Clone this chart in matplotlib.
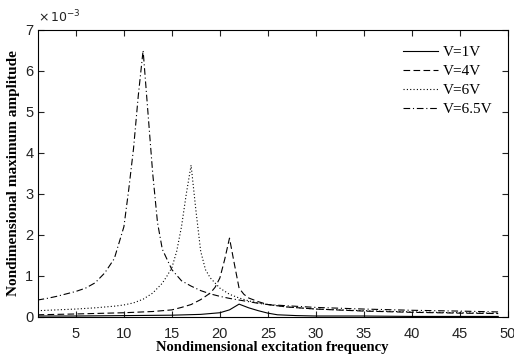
import matplotlib
matplotlib.use("Agg")
import matplotlib.pyplot as plt

# amplitudes in units of 1e-3
x_1v = [1, 5, 10, 15, 18, 20, 21, 22, 23, 24, 25, 26, 28, 30, 35, 40, 45, 49]
y_1v = [0.02, 0.02, 0.03, 0.04, 0.06, 0.10, 0.17, 0.31, 0.22, 0.15, 0.09, 0.05,
        0.03, 0.02, 0.02, 0.01, 0.01, 0.01]

x_4v = [1, 5, 10, 13, 15, 16, 17, 18, 19, 19.5, 20, 20.5, 21, 21.5, 22, 22.5,
        23, 24, 25, 27, 30, 35, 40, 45, 49]
y_4v = [0.05, 0.07, 0.10, 0.13, 0.17, 0.23, 0.30, 0.42, 0.58, 0.72, 0.95, 1.40,
        1.92, 1.30, 0.70, 0.55, 0.46, 0.37, 0.30, 0.24, 0.19, 0.14, 0.11, 0.09, 0.08]

x_6v = [1, 3, 5, 7, 9, 10, 11, 12, 13, 14, 14.5, 15, 15.5, 16, 16.5, 17, 17.5,
        18, 18.5, 19, 20, 21, 22, 23, 24, 25, 27, 30, 35, 40, 45, 49]
y_6v = [0.15, 0.17, 0.19, 0.22, 0.26, 0.29, 0.34, 0.43, 0.58, 0.82, 1.0, 1.2,
        1.6, 2.2, 3.0, 3.7, 2.6, 1.6, 1.15, 0.95, 0.70, 0.55, 0.46, 0.39, 0.34,
        0.30, 0.24, 0.19, 0.15, 0.12, 0.10, 0.09]

x_65v = [1, 2, 3, 4, 5, 6, 7, 8, 9, 10, 10.5, 11, 11.5, 12, 12.5, 13, 13.5, 14,
         15, 16, 17, 18, 19, 20, 21, 22, 23, 24, 25, 27, 30, 35, 40, 45, 49]
y_65v = [0.41, 0.45, 0.50, 0.56, 0.62, 0.70, 0.83, 1.07, 1.42, 2.2, 3.1, 4.1,
         5.4, 6.5, 5.0, 3.5, 2.3, 1.65, 1.15, 0.88, 0.75, 0.64, 0.56, 0.50, 0.45,
         0.41, 0.37, 0.33, 0.30, 0.27, 0.23, 0.19, 0.16, 0.14, 0.12]

labels = ["V=1V", "V=4V", "V=6V", "V=6.5V"]
xticks = [5, 10, 15, 20, 25, 30, 35, 40, 45, 50]
yticks = [0, 1, 2, 3, 4, 5, 6, 7]

fig = plt.figure(figsize=(5.14, 3.56), dpi=100)
ax = fig.add_axes([0.073, 0.110, 0.915, 0.806])

ax.plot(x_1v, y_1v, color="black", lw=0.8, ls="-", label=labels[0])
ax.plot(x_4v, y_4v, color="black", lw=0.8, ls=(0, (6, 3)), label=labels[1])
ax.plot(x_6v, y_6v, color="black", lw=0.8, ls=(0, (1, 2)), label=labels[2])
ax.plot(x_65v, y_65v, color="black", lw=0.8, ls=(0, (6, 2.5, 1, 2.5)), label=labels[3])

ax.set_xticks(xticks)
ax.set_yticks(yticks)
ax.set_xticklabels([str(t) for t in xticks], family="Liberation Sans")
ax.set_yticklabels([str(t) for t in yticks], family="Liberation Sans")
ax.set_xlim(1, 50)
ax.set_ylim(0, 7)
ax.tick_params(direction="in", top=True, right=True, length=4, width=0.8,
               labelsize=10.5, colors="#222222")
ax.tick_params(axis="x", pad=7)
ax.tick_params(axis="y", pad=3)

ax.set_xlabel("Nondimensional excitation frequency", family="Liberation Serif",
              fontweight="bold", fontsize=10.5, labelpad=0)
ax.set_ylabel("Nondimensional maximum amplitude", family="Liberation Serif",
              fontweight="bold", fontsize=11, labelpad=4)

ax.text(0.0, 1.015, r"$\times\,10^{-3}$", transform=ax.transAxes,
        fontsize=9, family="Liberation Sans", va="bottom", ha="left",
        color="#222222")

leg = ax.legend(loc="upper right", frameon=False, handlelength=2.3,
                prop={"family": "Liberation Serif", "size": 11},
                labelspacing=0.35, borderaxespad=0.6, handletextpad=0.3)

fig.savefig("out.png", dpi=100)
